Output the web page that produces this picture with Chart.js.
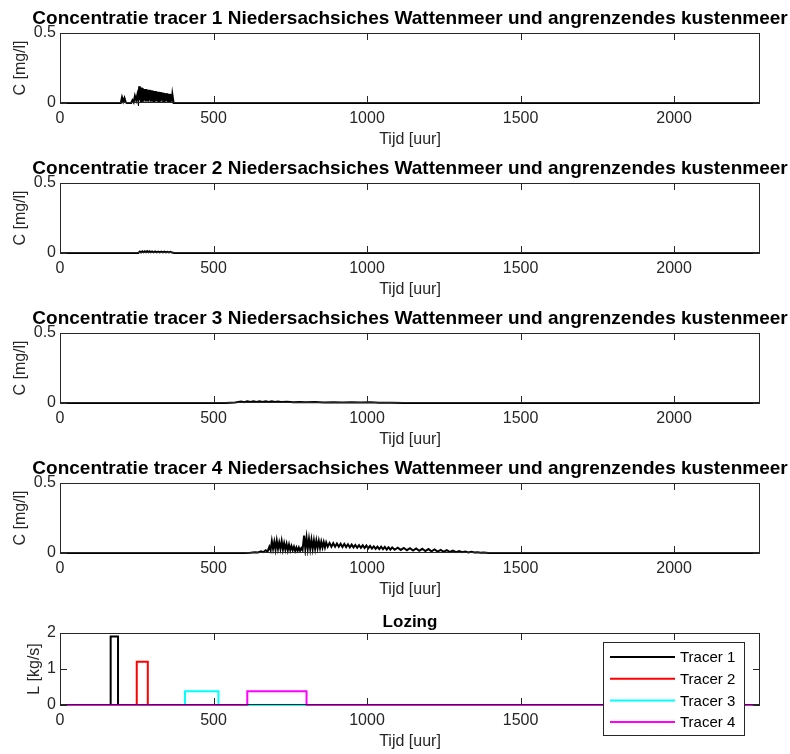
<!DOCTYPE html>
<html>
<head>
<meta charset="utf-8">
<script src="https://cdn.jsdelivr.net/npm/chart.js@4.4.1/dist/chart.umd.min.js"></script>
<style>
    body { margin: 0; background: #fff; }
    #wrap { position: relative; width: 790px; height: 754px; }
    .panel { position: absolute; left: 0; width: 790px; height: 150px; }
</style>
</head>
<body>
<div id="wrap">
    <div class="panel" style="top:0px"><canvas id="conc1" width="790" height="150"></canvas></div>
    <div class="panel" style="top:150px"><canvas id="conc2" width="790" height="150"></canvas></div>
    <div class="panel" style="top:300px"><canvas id="conc3" width="790" height="150"></canvas></div>
    <div class="panel" style="top:450px"><canvas id="conc4" width="790" height="150"></canvas></div>
    <div class="panel" style="top:600px"><canvas id="lozing" width="790" height="150"></canvas></div>
</div>
<script>
const hourMax = 2280
const hourTicks = [0, 500, 1000, 1500, 2000]
const concMax = 0.5
const concTicks = [0, 0.5]
const loadMax = 2
const loadTicks = [0, 1, 2]

const tracerNames = ["Tracer 1", "Tracer 2", "Tracer 3", "Tracer 4"]
const tracerColors = ["#000000", "#ff0000", "#00ffff", "#ff00ff"]

const concTitles = [
    "Concentratie tracer 1 Niedersachsiches Wattenmeer und angrenzendes kustenmeer",
    "Concentratie tracer 2 Niedersachsiches Wattenmeer und angrenzendes kustenmeer",
    "Concentratie tracer 3 Niedersachsiches Wattenmeer und angrenzendes kustenmeer",
    "Concentratie tracer 4 Niedersachsiches Wattenmeer und angrenzendes kustenmeer"
]

// [tijd (uur), concentratie (mg/l)]
const tracer1Conc = [
    [0, 0], [198, 0], [202, 0.04], [206, 0.01], [210, 0.035], [214, 0.005], [218, 0],
    [232, 0], [236, 0.02], [240, 0.005], [244, 0.05], [248, 0.02], [252, 0.06], [255, 0.015],
    [258, 0.12], [260, 0.02], [262, 0.1], [264, 0.01], [266, 0.11], [268, 0.02], [270, 0.105],
    [272, 0.01], [274, 0.1], [276, 0.02], [278, 0.1], [280, 0.01], [282, 0.098], [284, 0.02],
    [286, 0.095], [288, 0.01], [290, 0.095], [292, 0.02], [294, 0.09], [296, 0.01], [298, 0.09],
    [300, 0.02], [302, 0.088], [304, 0.01], [306, 0.085], [308, 0.02], [310, 0.085], [312, 0.01],
    [314, 0.082], [316, 0.02], [318, 0.08], [320, 0.01], [322, 0.08], [324, 0.02], [326, 0.078],
    [328, 0.01], [330, 0.075], [332, 0.02], [334, 0.075], [336, 0.01], [338, 0.072], [340, 0.02],
    [342, 0.07], [344, 0.01], [346, 0.07], [348, 0.015], [350, 0.068], [352, 0.01], [354, 0.065],
    [356, 0.015], [358, 0.065], [360, 0.01], [362, 0.062], [364, 0.01], [366, 0.06], [370, 0],
    [2280, 0]
]

const tracer2Conc = [
    [0, 0], [255, 0], [260, 0.01], [264, 0.004], [268, 0.012], [272, 0.005], [276, 0.012],
    [280, 0.005], [284, 0.013], [288, 0.006], [292, 0.012], [296, 0.005], [300, 0.011],
    [305, 0.005], [310, 0.011], [315, 0.005], [320, 0.01], [325, 0.004], [330, 0.01],
    [335, 0.004], [340, 0.01], [345, 0.004], [350, 0.009], [355, 0.004], [360, 0.008],
    [365, 0.003], [372, 0], [2280, 0]
]

const tracer3Conc = [
    [0, 0], [540, 0], [570, 0.004], [590, 0.01], [600, 0.006], [610, 0.012], [620, 0.007],
    [630, 0.013], [640, 0.008], [650, 0.013], [660, 0.008], [670, 0.013], [680, 0.008],
    [690, 0.012], [700, 0.008], [710, 0.011], [720, 0.007], [740, 0.009], [760, 0.006],
    [780, 0.008], [800, 0.005], [830, 0.007], [860, 0.004], [890, 0.006], [920, 0.004],
    [950, 0.006], [980, 0.003], [1010, 0.005], [1040, 0.002], [1080, 0.001], [1120, 0], [2280, 0]
]

const tracer4Conc = [
    [0, 0], [600, 0], [620, 0.002], [635, 0.006], [645, 0.004], [655, 0.012], [662, 0.006],
    [670, 0.02], [676, 0.01], [682, 0.045], [686, 0.02], [690, 0.085], [694, 0.03], [698, 0.08],
    [702, 0.025], [706, 0.088], [710, 0.03], [714, 0.075], [718, 0.03], [722, 0.085], [726, 0.025],
    [730, 0.07], [734, 0.025], [738, 0.065], [742, 0.02], [746, 0.06], [750, 0.02], [754, 0.05],
    [758, 0.02], [762, 0.045], [766, 0.015], [770, 0.04], [774, 0.015], [778, 0.038], [782, 0.015],
    [786, 0.035], [790, 0.02], [795, 0.125], [799, 0.03], [803, 0.11], [807, 0.03], [811, 0.1],
    [815, 0.03], [819, 0.095], [823, 0.03], [827, 0.09], [831, 0.03], [835, 0.088], [839, 0.035],
    [843, 0.085], [847, 0.035], [851, 0.08], [855, 0.04], [859, 0.078], [863, 0.04], [867, 0.075],
    [872, 0.045], [878, 0.072], [884, 0.045], [890, 0.07], [896, 0.045], [902, 0.068], [908, 0.045],
    [914, 0.066], [920, 0.043], [926, 0.064], [932, 0.042], [938, 0.062], [944, 0.04], [950, 0.06],
    [956, 0.04], [962, 0.058], [968, 0.038], [974, 0.056], [980, 0.037], [986, 0.055], [992, 0.035],
    [998, 0.053], [1004, 0.034], [1010, 0.05], [1016, 0.032], [1022, 0.048], [1028, 0.03],
    [1034, 0.046], [1040, 0.028], [1046, 0.045], [1052, 0.027], [1058, 0.043], [1064, 0.025],
    [1070, 0.041], [1076, 0.024], [1082, 0.04], [1090, 0.023], [1100, 0.038], [1110, 0.022],
    [1120, 0.036], [1130, 0.02], [1140, 0.034], [1150, 0.018], [1160, 0.032], [1170, 0.016],
    [1180, 0.03], [1190, 0.014], [1200, 0.028], [1210, 0.012], [1220, 0.025], [1230, 0.01],
    [1240, 0.022], [1250, 0.009], [1260, 0.02], [1270, 0.007], [1280, 0.017], [1290, 0.006],
    [1300, 0.014], [1310, 0.005], [1320, 0.011], [1330, 0.004], [1340, 0.009], [1350, 0.003],
    [1360, 0.006], [1370, 0.002], [1380, 0.004], [1395, 0], [2280, 0]
]

// [tijd (uur), lozing (kg/s)]
const tracer1Load = [[0, 0], [165, 0], [165, 1.9], [189, 1.9], [189, 0], [2280, 0]]
const tracer2Load = [[0, 0], [250, 0], [250, 1.2], [286, 1.2], [286, 0], [2280, 0]]
const tracer3Load = [[0, 0], [407, 0], [407, 0.38], [516, 0.38], [516, 0], [2280, 0]]
const tracer4Load = [[0, 0], [610, 0], [610, 0.38], [803, 0.38], [803, 0], [2280, 0]]

const FONT = "'Liberation Sans', Arial, sans-serif"
const AXIS_COLOR = "#262626"

const toPoints = pairs => pairs.map(p => ({x: p[0], y: p[1]}))

// box, inward ticks, titles, labels and (for lozing) the legend
const matlabAxes = {
    id: "matlabAxes",
    afterDatasetsDraw(chart, args, opts) {
        const {ctx, chartArea: a, scales} = chart
        ctx.save()
        ctx.strokeStyle = AXIS_COLOR
        ctx.lineWidth = 1
        ctx.strokeRect(Math.round(a.left) + 0.5, Math.round(a.top) + 0.5, Math.round(a.width) - 1, Math.round(a.height) - 1)

        ctx.beginPath()
        scales.x.ticks.forEach(t => {
            const px = Math.round(scales.x.getPixelForValue(t.value)) + 0.5
            ctx.moveTo(px, a.bottom)
            ctx.lineTo(px, a.bottom - 7)
            ctx.moveTo(px, a.top)
            ctx.lineTo(px, a.top + 7)
        })
        scales.y.ticks.forEach(t => {
            const py = Math.round(scales.y.getPixelForValue(t.value)) + 0.5
            ctx.moveTo(a.left, py)
            ctx.lineTo(a.left + 7, py)
            ctx.moveTo(a.right, py)
            ctx.lineTo(a.right - 7, py)
        })
        ctx.stroke()

        const cx = (a.left + a.right) / 2
        ctx.fillStyle = "#000"
        ctx.textAlign = "center"
        ctx.textBaseline = "middle"
        ctx.font = "bold " + opts.titleSize + "px " + FONT
        ctx.fillText(opts.title, cx, a.top - opts.titleOffset)

        ctx.fillStyle = AXIS_COLOR
        ctx.font = "16px " + FONT
        ctx.fillText("Tijd [uur]", cx, a.bottom + 37)

        ctx.save()
        ctx.translate(opts.ylabelX, (a.top + a.bottom) / 2)
        ctx.rotate(-Math.PI / 2)
        ctx.fillText(opts.ylabel, 0, 0)
        ctx.restore()

        if (opts.legend) {
            const lx = a.right - 16 - 141
            const ly = a.top + 9
            ctx.fillStyle = "#fff"
            ctx.fillRect(lx, ly, 141, 93)
            ctx.strokeStyle = AXIS_COLOR
            ctx.lineWidth = 1
            ctx.strokeRect(lx + 0.5, ly + 0.5, 141, 93)
            ctx.font = "15px " + FONT
            ctx.textAlign = "left"
            chart.data.datasets.forEach((ds, i) => {
                const ry = ly + 15 + i * 21.7
                ctx.strokeStyle = ds.borderColor
                ctx.lineWidth = 2
                ctx.beginPath()
                ctx.moveTo(lx + 7, ry)
                ctx.lineTo(lx + 72, ry)
                ctx.stroke()
                ctx.fillStyle = "#000"
                ctx.fillText(ds.label, lx + 77, ry + 1)
            })
        }
        ctx.restore()
    }
}

function makeChart(id, datasets, yMax, yTicks, plotHeight, frame) {
    return new Chart(document.getElementById(id), {
        type: "line",
        data: { datasets: datasets },
        options: {
            responsive: false,
            animation: false,
            layout: { padding: { top: 33, right: 30, left: 0, bottom: 0 } },
            plugins: {
                legend: { display: false },
                tooltip: { enabled: false },
                matlabAxes: frame
            },
            scales: {
                x: {
                    type: "linear",
                    min: 0,
                    max: hourMax,
                    afterBuildTicks: s => { s.ticks = hourTicks.map(v => ({value: v})) },
                    afterFit: s => { s.height = 150 - 33 - plotHeight },
                    grid: { display: false, drawTicks: false },
                    border: { display: false },
                    ticks: { autoSkip: false, maxRotation: 0, padding: 6, color: AXIS_COLOR, font: { family: FONT, size: 16 }, callback: v => String(v) }
                },
                y: {
                    type: "linear",
                    min: 0,
                    max: yMax,
                    afterBuildTicks: s => { s.ticks = yTicks.map(v => ({value: v})) },
                    afterFit: s => { s.width = 60 },
                    grid: { display: false, drawTicks: false },
                    border: { display: false },
                    ticks: { padding: 4, color: AXIS_COLOR, font: { family: FONT, size: 16 }, callback: v => String(v) }
                }
            }
        },
        plugins: [matlabAxes]
    })
}

const concSeries = [tracer1Conc, tracer2Conc, tracer3Conc, tracer4Conc]

concSeries.forEach((series, i) => {
    makeChart("conc" + (i + 1), [{
        label: tracerNames[i],
        data: toPoints(series),
        borderColor: "#000000",
        borderWidth: 2,
        pointRadius: 0,
        tension: 0,
        clip: 3
    }], concMax, concTicks, 70, {
        title: concTitles[i],
        titleSize: 19,
        titleOffset: 14,
        ylabel: "C [mg/l]",
        ylabelX: 21
    })
})

const loadSeries = [tracer1Load, tracer2Load, tracer3Load, tracer4Load]

makeChart("lozing", loadSeries.map((series, i) => ({
    label: tracerNames[i],
    data: toPoints(series),
    borderColor: tracerColors[i],
    borderWidth: 2,
    pointRadius: 0,
    tension: 0,
    clip: 3,
    order: 3 - i
})), loadMax, loadTicks, 72, {
    title: "Lozing",
    titleSize: 17,
    titleOffset: 11,
    ylabel: "L [kg/s]",
    ylabelX: 35,
    legend: true
})
</script>
</body>
</html>
